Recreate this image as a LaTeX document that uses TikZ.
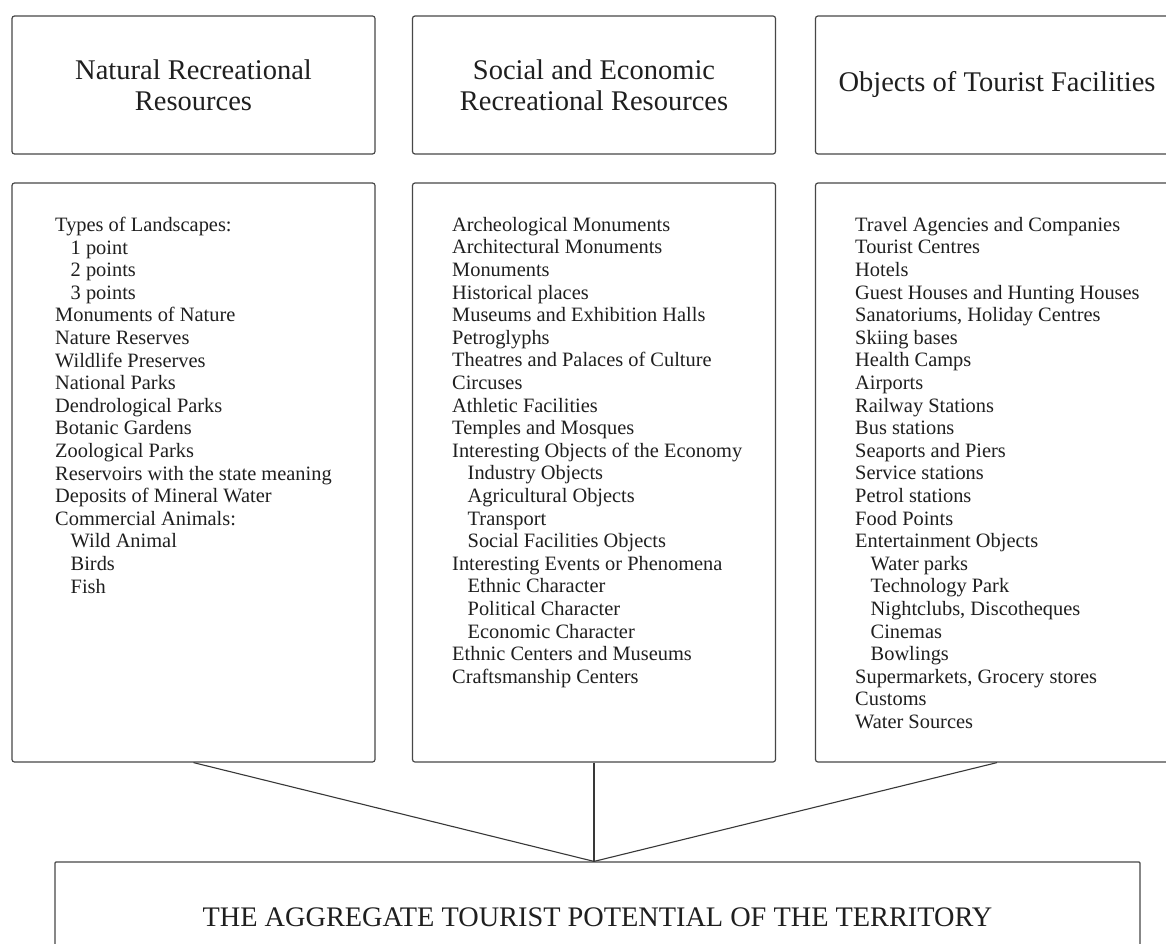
\documentclass[tikz,border=0pt]{standalone}
\usepackage{fontspec}
\setmainfont{Liberation Serif}
\begin{document}
\begin{tikzpicture}[x=1pt,y=-1pt,
  frame/.style={draw=black!72,line width=1.2pt,rounded corners=2.5pt,inner sep=0pt},
  headbox/.style={frame,minimum width=363pt,minimum height=138pt,align=center,
    font=\fontsize{28.5}{31}\selectfont,text=black!88},
  listbox/.style={frame,minimum width=363pt,minimum height=579pt},
  listtext/.style={anchor=north west,inner sep=0pt,align=left,
    font=\fontsize{20.4}{22.6}\selectfont,text=black!88},
  sumbox/.style={frame,rounded corners=1pt,minimum width=1085pt,minimum height=110pt,
    font=\fontsize{28.3}{31}\selectfont,text=black!88},
  link/.style={draw=black!78,line width=1.1pt}]
\useasboundingbox (0,0) rectangle (1166,944);
\clip (0,0) rectangle (1166,944);
\fill[white] (0,0) rectangle (1166,944);
\newcommand{\sub}{\hspace*{15.5pt}}

% column headings
\node[headbox] (h1) at (193.5,85) {Natural Recreational\\Resources};
\node[headbox] (h2) at (594,85) {Social and Economic\\Recreational Resources};
\node[headbox] (h3) at (997,85) {Objects of Tourist Facilities};

% column lists
\node[listbox] (b1) at (193.5,472.5) {};
\node[listbox] (b2) at (594,472.5) {};
\node[listbox] (b3) at (997,472.5) {};

\node[listtext] (t1) at (55,217) {Types of Landscapes:\\
\sub 1 point\\ \sub 2 points\\ \sub 3 points\\
Monuments of Nature\\ Nature Reserves\\ Wildlife Preserves\\ National Parks\\
Dendrological Parks\\ Botanic Gardens\\ Zoological Parks\\
Reservoirs with the state meaning\\ Deposits of Mineral Water\\
Commercial Animals:\\ \sub Wild Animal\\ \sub Birds\\ \sub Fish};

\node[listtext] (t2) at (452,217) {Archeological Monuments\\ Architectural Monuments\\
Monuments\\ Historical places\\ Museums and Exhibition Halls\\ Petroglyphs\\
Theatres and Palaces of Culture\\ Circuses\\ Athletic Facilities\\
Temples and Mosques\\ Interesting Objects of the Economy\\
\sub Industry Objects\\ \sub Agricultural Objects\\ \sub Transport\\
\sub Social Facilities Objects\\ Interesting Events or Phenomena\\
\sub Ethnic Character\\ \sub Political Character\\ \sub Economic Character\\
Ethnic Centers and Museums\\ Craftsmanship Centers};

\node[listtext] (t3) at (855,217) {Travel Agencies and Companies\\ Tourist Centres\\
Hotels\\ Guest Houses and Hunting Houses\\ Sanatoriums, Holiday Centres\\
Skiing bases\\ Health Camps\\ Airports\\ Railway Stations\\ Bus stations\\
Seaports and Piers\\ Service stations\\ Petrol stations\\ Food Points\\
Entertainment Objects\\ \sub Water parks\\ \sub Technology Park\\
\sub Nightclubs, Discotheques\\ \sub Cinemas\\ \sub Bowlings\\
Supermarkets, Grocery stores\\ Customs\\ Water Sources};

% aggregate box
\node[sumbox] (sum) at (597.5,917) {THE AGGREGATE TOURIST POTENTIAL OF THE TERRITORY};
\coordinate (join) at (b2.south |- sum.north);

% connectors
\draw[link] (b1.south) -- (join);
\draw[link] (b2.south) -- (join);
\draw[link] (b3.south) -- (join);
\end{tikzpicture}
\end{document}
